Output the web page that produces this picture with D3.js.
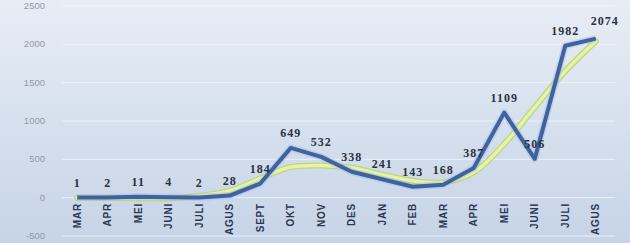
<!DOCTYPE html>
<meta charset="utf-8">
<style>
  html, body { margin: 0; padding: 0; }
  svg { display: block; }
  .ytick text { font-family: "Liberation Sans", sans-serif; font-size: 9.5px; fill: #939aa4; }
  .xtick text { font-family: "Liberation Sans Narrow", "Liberation Sans", sans-serif; font-size: 10px; font-weight: bold; fill: #2e3852; letter-spacing: 0.8px; }
  .vlabel { font-family: "Liberation Serif", serif; font-size: 12px; font-weight: bold; fill: #2a3240; letter-spacing: 1px; }
</style>
<body>
<svg width="630" height="243"></svg>
<script src="https://d3js.org/d3.v7.min.js"></script>
<script>
  var months = ["MAR", "APR", "MEI", "JUNI", "JULI", "AGUS", "SEPT", "OKT", "NOV", "DES",
    "JAN", "FEB", "MAR", "APR", "MEI", "JUNI", "JULI", "AGUS"];
  var cases = [1, 2, 11, 4, 2, 28, 184, 649, 532, 338, 241, 143, 168, 387, 1109, 506, 1982, 2074];
  // trend line
  var trend = [0, -5, -10, -10, 25, 90, 250, 400, 420, 390, 300, 220, 200, 330, 700, 1180, 1650, 2040];
  var yTicks = [-500, 0, 500, 1000, 1500, 2000, 2500];

  var svg = d3.select("svg"),
    width = +svg.attr("width"),
    height = +svg.attr("height");

  var defs = svg.append("defs");
  var grad = defs.append("linearGradient")
    .attr("id", "bg").attr("x1", 0).attr("y1", 0).attr("x2", 0).attr("y2", 1);
  grad.append("stop").attr("offset", "0%").attr("stop-color", "#e7edf5");
  grad.append("stop").attr("offset", "100%").attr("stop-color", "#c6d4e7");

  svg.append("rect").attr("width", width).attr("height", height).attr("fill", "url(#bg)");

  var idx = months.map(function(d, i) { return i; });
  var x = d3.scalePoint().domain(idx).range([62, 611]).padding(0.5);
  var y = d3.scaleLinear().domain([-500, 2500]).range([236, 6]);

  // grid
  svg.append("g")
    .selectAll("line")
    .data(yTicks)
    .enter().append("line")
    .attr("x1", 62).attr("x2", 615)
    .attr("y1", function(d) { return y(d); })
    .attr("y2", function(d) { return y(d); })
    .attr("stroke", "#f3f6fa")
    .attr("stroke-opacity", 0.8)
    .attr("stroke-width", 1);

  // y axis labels
  svg.append("g")
    .attr("class", "ytick")
    .selectAll("text")
    .data(yTicks)
    .enter().append("text")
    .attr("x", 45)
    .attr("y", function(d) { return y(d) + 3; })
    .attr("text-anchor", "end")
    .text(function(d) { return d; });

  // x axis labels
  svg.append("g")
    .attr("class", "xtick")
    .selectAll("text")
    .data(idx)
    .enter().append("text")
    .attr("transform", function(i) { return "translate(" + (x(i) + 3.5) + ",203) rotate(-90)"; })
    .attr("text-anchor", "end")
    .text(function(i) { return months[i]; });

  // trend line
  var trendLine = d3.line()
    .x(function(d, i) { return x(i); })
    .y(function(d) { return y(d); })
    .curve(d3.curveCatmullRom);

  svg.append("path")
    .datum(trend)
    .attr("d", trendLine)
    .attr("fill", "none")
    .attr("stroke", "#bcd67c")
    .attr("stroke-width", 6)
    .attr("stroke-linecap", "round");
  svg.append("path")
    .datum(trend)
    .attr("d", trendLine)
    .attr("fill", "none")
    .attr("stroke", "#e6f2a8")
    .attr("stroke-width", 3.5)
    .attr("stroke-linecap", "round");

  // main line
  var line = d3.line()
    .x(function(d, i) { return x(i); })
    .y(function(d) { return y(d); });

  svg.append("path")
    .datum(cases)
    .attr("d", line)
    .attr("fill", "none")
    .attr("stroke", "#a6bfe6")
    .attr("stroke-width", 7)
    .attr("stroke-opacity", 0.5)
    .attr("stroke-linejoin", "round");
  svg.append("path")
    .datum(cases)
    .attr("d", line)
    .attr("fill", "none")
    .attr("stroke", "#40629f")
    .attr("stroke-width", 4)
    .attr("stroke-linejoin", "round");

  // value labels
  svg.append("g")
    .selectAll("text")
    .data(cases)
    .enter().append("text")
    .attr("class", "vlabel")
    .attr("x", function(d, i) { return x(i) + (i === cases.length - 1 ? 9 : 0); })
    .attr("y", function(d, i) { return y(d) - (i === cases.length - 1 ? 14 : 11); })
    .attr("text-anchor", "middle")
    .text(function(d) { return d; });
</script>
</body>
